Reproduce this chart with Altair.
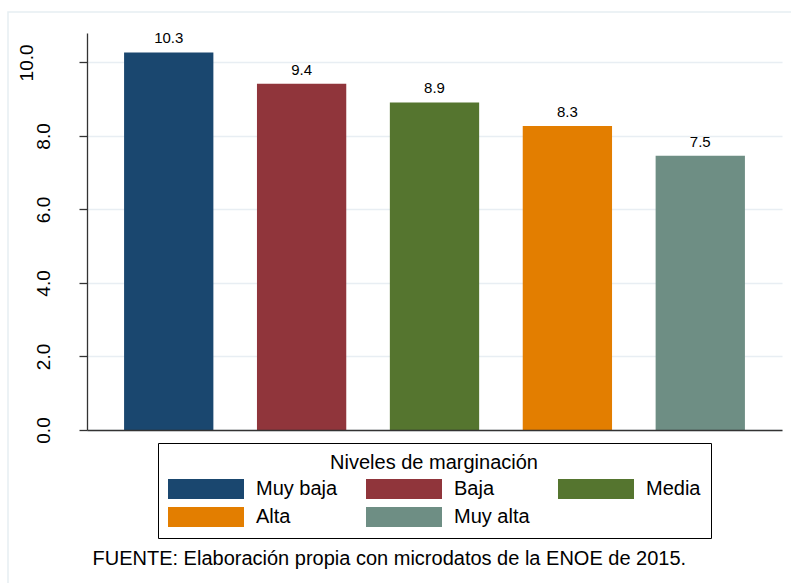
import altair as alt
import pandas as pd

# ---- data ----
categories = ["Muy baja", "Baja", "Media", "Alta", "Muy alta"]
values = [10.27, 9.42, 8.91, 8.27, 7.46]
colors = ["#1a476f", "#90353b", "#55752f", "#e37e00", "#6e8e84"]
y_ticks = [0, 2, 4, 6, 8, 10]
legend_title = "Niveles de marginación"
source_note = "FUENTE: Elaboración propia con microdatos de la ENOE de 2015."

df = pd.DataFrame({"nivel": categories, "valor": values})

FONT = "Liberation Sans"
W, H = 695, 397
AXIS_C = "#333333"

x = alt.X(
    "nivel:N",
    sort=categories,
    scale=alt.Scale(paddingInner=0.328, paddingOuter=0.279),
    axis=alt.Axis(
        title=source_note,
        labels=False,
        ticks=False,
        grid=False,
        domainColor=AXIS_C,
        domainWidth=1.3,
        titleX=5,
        titleY=134,
        titleAlign="left",
        titleBaseline="alphabetic",
        titleFontSize=20,
        titleFontWeight="normal",
        titleColor="black",
        titleFont=FONT,
        zindex=1,
    ),
)

y = alt.Y(
    "valor:Q",
    scale=alt.Scale(domain=[0, 10.8], nice=False, zero=True),
    axis=alt.Axis(
        title=None,
        values=y_ticks,
        format=".1f",
        labelAngle=270,
        labelAlign="center",
        labelBaseline="alphabetic",
        labelFontSize=19,
        labelFont=FONT,
        labelColor="black",
        labelPadding={"expr": "datum.value == 10 ? 47 : 30"},
        labelFlush=False,
        labelOverlap=False,
        tickSize=8,
        tickColor=AXIS_C,
        tickWidth=1.3,
        domainColor=AXIS_C,
        domainWidth=1.3,
        grid=True,
        gridColor="#e8eef3",
        gridWidth=1.5,
    ),
)

color = alt.Color(
    "nivel:N",
    scale=alt.Scale(domain=categories, range=colors),
    legend=alt.Legend(
        title=legend_title,
        orient="none",
        direction="horizontal",
        legendX=71,
        legendY=410,
        columns=3,
        symbolType="M-1,-0.263H1V0.263H-1Z",
        symbolSize=5776,
        symbolStrokeWidth=0,
        symbolOpacity=1,
        labelFontSize=20,
        labelFont=FONT,
        labelColor="black",
        labelOffset=12,
        labelLimit=300,
        columnPadding=28,
        rowPadding=6,
        clipHeight=22,
        padding=10,
        strokeColor="black",
        fillColor="white",
        titleFontSize=20,
        titleFont=FONT,
        titleFontWeight="normal",
        titleColor="black",
        titleAnchor="middle",
        titlePadding=5,
        titleLimit=600,
    ),
)

frame = alt.Chart(alt.Data(values=[{}])).mark_rect(
    fillOpacity=0, stroke="#e6eef2", strokeWidth=1.5
).encode(
    x=alt.value(-79), x2=alt.value(720), y=alt.value(-21), y2=alt.value(570)
)

bars = alt.Chart().mark_bar().encode(x=x, y=y, color=color)

labels = alt.Chart().mark_text(
    dy=-9, baseline="alphabetic", fontSize=15, font=FONT, color="black"
).encode(x=x, y=y, text=alt.Text("valor:Q", format=".1f"))

chart = (
    alt.layer(frame, bars, labels, data=df)
    .properties(
        width=W,
        height=H,
        autosize=alt.AutoSizeParams(type="none"),
        padding={"left": 87, "top": 33, "right": 9, "bottom": 153},
    )
    .configure(background="white", font=FONT)
    .configure_view(stroke=None)
)

chart.save("out.html", embed_options={"renderer": "svg", "actions": False})
